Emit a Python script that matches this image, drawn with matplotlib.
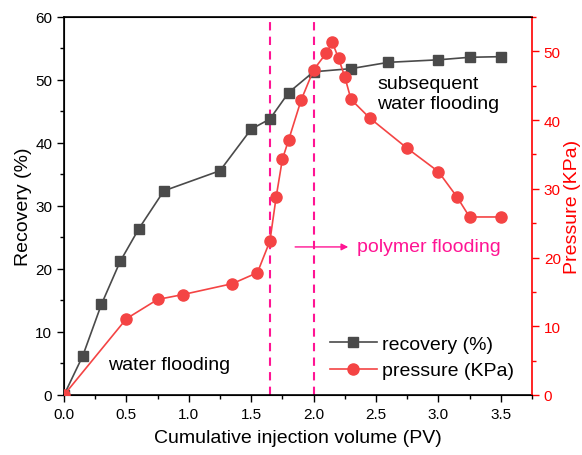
import matplotlib
matplotlib.use("Agg")
import matplotlib.pyplot as plt
from matplotlib.ticker import MultipleLocator

plt.rcParams['font.family'] = ['Liberation Sans', 'DejaVu Sans']

rec_x = [0.0, 0.15, 0.30, 0.45, 0.60, 0.80, 1.25, 1.50, 1.65, 1.80, 2.00, 2.30, 2.60, 3.00, 3.25, 3.50]
rec_y = [0.0, 6.2, 14.4, 21.2, 26.4, 32.4, 35.6, 42.2, 43.8, 48.0, 51.3, 51.8, 52.8, 53.2, 53.6, 53.7]

pr_x = [0.0, 0.50, 0.75, 0.95, 1.35, 1.55, 1.65, 1.70, 1.75, 1.80, 1.90, 2.00, 2.10, 2.15, 2.20, 2.25, 2.30, 2.45, 2.75, 3.00, 3.15, 3.25, 3.50]
pr_y = [0.0, 11.1, 13.9, 14.6, 16.2, 17.8, 22.4, 28.8, 34.3, 37.1, 42.9, 47.3, 49.7, 51.3, 49.0, 46.3, 43.0, 40.3, 35.9, 32.5, 28.8, 25.9, 25.9]

phase_x = [1.65, 2.0]

gray = '#4a4a4a'
red = '#f44444'
mag = '#ff1493'

fig = plt.figure(figsize=(5.82, 4.56), dpi=100)
ax = fig.add_axes([0.110, 0.1316, 0.804, 0.829])
ax2 = ax.twinx()

l1, = ax.plot(rec_x, rec_y, color=gray, marker='s', markersize=7, lw=1.2, label='recovery (%)', zorder=3)
l2, = ax2.plot(pr_x, pr_y, color=red, marker='o', markersize=8, lw=1.2, label='pressure (KPa)', zorder=3)

for xv in phase_x:
    ax.axvline(xv, color=mag, ls=(0, (4, 3)), lw=1.5, zorder=1)

ax.set_xlim(0, 3.75)
ax.set_ylim(0, 60)
ax2.set_ylim(0, 55)

ax.xaxis.set_major_locator(MultipleLocator(0.5))
ax.xaxis.set_minor_locator(MultipleLocator(0.25))
ax.yaxis.set_major_locator(MultipleLocator(10))
ax.yaxis.set_minor_locator(MultipleLocator(5))
ax2.yaxis.set_major_locator(MultipleLocator(10))
ax2.yaxis.set_minor_locator(MultipleLocator(5))

ax.tick_params(axis='both', which='major', direction='out', length=5, width=1, labelsize=11)
ax.tick_params(axis='both', which='minor', direction='out', length=3, width=1)
ax2.tick_params(axis='y', which='major', direction='out', length=5, width=1, labelsize=11, colors='red')
ax2.tick_params(axis='y', which='minor', direction='out', length=3, width=1, colors='red')

for s in ['left', 'bottom', 'top']:
    ax.spines[s].set_linewidth(1.2)
ax2.spines['right'].set_color('red')
ax2.spines['right'].set_linewidth(1.2)
ax.spines['right'].set_visible(False)

ax.set_xlabel('Cumulative injection volume (PV)', fontsize=14, labelpad=6)
ax.set_ylabel('Recovery (%)', fontsize=14, labelpad=2)
ax2.set_ylabel('Pressure (KPa)', fontsize=14, color='red', labelpad=2)

ax.text(0.35, 4.9, 'water flooding', fontsize=14, va='center', ha='left')
ax.text(2.51, 47.8, 'subsequent\nwater flooding', fontsize=14, va='center', ha='left', linespacing=1.25)
ax.annotate('', xy=(2.30, 23.5), xytext=(1.83, 23.5),
            arrowprops=dict(arrowstyle='-|>', color=mag, lw=1.0, mutation_scale=10))
ax.text(2.35, 23.5, 'polymer flooding', fontsize=14, color=mag, va='center', ha='left')

leg = ax.legend(handles=[l1, l2], loc='lower right', bbox_to_anchor=(1.0, -0.005),
                frameon=False, fontsize=14, handlelength=2.4, handletextpad=0.3, labelspacing=0.45)

fig.savefig('out.png', dpi=100)
